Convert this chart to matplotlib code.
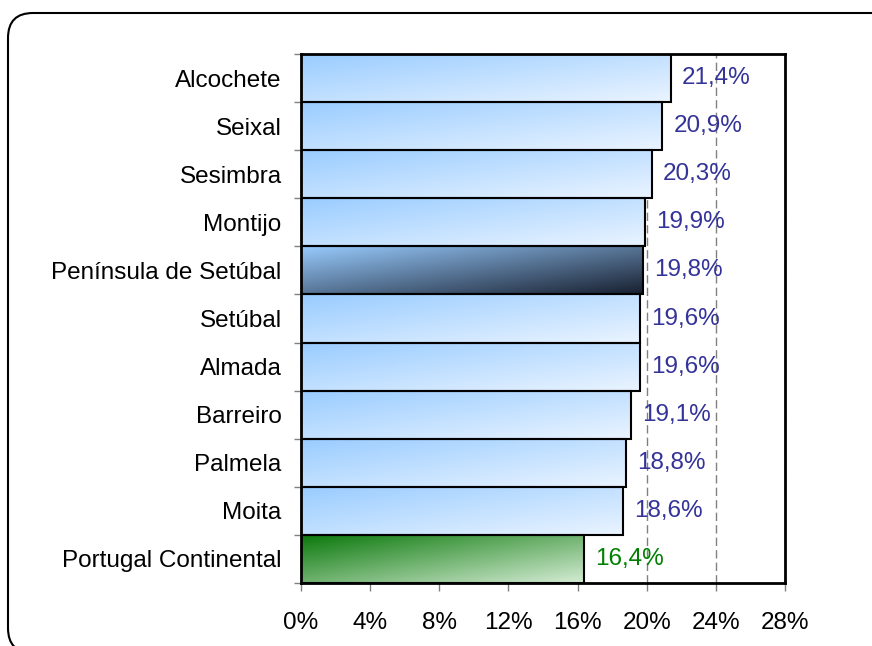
import numpy as np
import matplotlib.pyplot as plt
from matplotlib.patches import FancyBboxPatch

plt.rcParams['font.family'] = ['Liberation Sans', 'DejaVu Sans']

categories = ['Alcochete', 'Seixal', 'Sesimbra', 'Montijo', 'Península de Setúbal',
              'Setúbal', 'Almada', 'Barreiro', 'Palmela', 'Moita', 'Portugal Continental']
values = [21.4, 20.9, 20.3, 19.9, 19.8, 19.6, 19.6, 19.1, 18.8, 18.6, 16.4]
xticks = [0, 4, 8, 12, 16, 20, 24, 28]

# gradient styles: (top-left colour, bottom-right colour), label colour
blue = ((153, 204, 255), (234, 244, 255))
dark = ((153, 204, 255), (24, 32, 48))
green = ((10, 120, 10), (212, 236, 212))
styles = [blue] * 4 + [dark] + [blue] * 5 + [green]
label_colors = ['#333399'] * 10 + ['#008000']

fig = plt.figure(figsize=(8.72, 6.46), dpi=100)

# rounded frame around the chart (inches), running off the right/bottom
frame = FancyBboxPatch((0.08, -0.07), 8.92, 6.40,
                       boxstyle='round,pad=0,rounding_size=0.25',
                       transform=fig.dpi_scale_trans, facecolor='none',
                       edgecolor='black', linewidth=1.5)
fig.patches.append(frame)

ax = fig.add_axes([301 / 872, 1 - 583 / 646, 484 / 872, 529 / 646])

n = len(values)
ypos = np.arange(n)[::-1]

u = np.linspace(0, 1, 200)[None, :]
v = np.linspace(0, 1, 40)[:, None]
t = (u + v) / 2

for y, val, (c0, c1), lc in zip(ypos, values, styles, label_colors):
    bar = ax.barh(y, val, height=1.0, facecolor='none', edgecolor='black',
                  linewidth=1.5, zorder=3)[0]
    c0 = np.array(c0) / 255
    c1 = np.array(c1) / 255
    img = c0 * (1 - t[..., None]) + c1 * t[..., None]
    im = ax.imshow(img, extent=(0, val, y - 0.5, y + 0.5), origin='upper',
                   aspect='auto', zorder=2, interpolation='bilinear')
    im.set_clip_path(bar)
    ax.annotate(f"{val:.1f}".replace('.', ',') + '%', (val, y),
                xytext=(8, 0), textcoords='offset points', va='center',
                ha='left', fontsize=17.5, color=lc, zorder=4)

ax.set_xlim(0, 28)
ax.set_ylim(-0.5, n - 0.5)
ax.set_xticks(xticks)
ax.set_xticklabels([f"{x}%" for x in xticks])
ax.set_yticks(ypos)
ax.set_yticklabels(categories)
ax.set_yticks(np.arange(n + 1) - 0.5, minor=True)

ax.tick_params(axis='x', length=6, width=1, color='#808080', labelsize=17.5, pad=15)
ax.tick_params(axis='y', which='major', length=0, labelsize=17.5, pad=14)
ax.tick_params(axis='y', which='minor', length=5, width=1, color='#808080')

ax.xaxis.grid(True, color='#808080', linestyle=(0, (6, 3)), linewidth=1)
ax.set_axisbelow(True)
for s in ax.spines.values():
    s.set_linewidth(2)
    s.set_color('black')

fig.savefig('out.png', dpi=100)
